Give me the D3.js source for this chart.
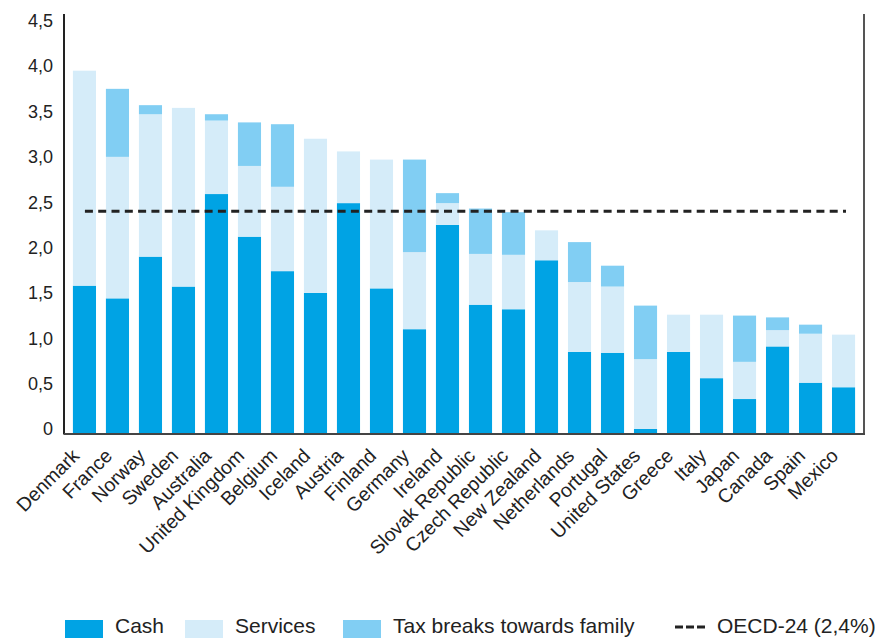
<!DOCTYPE html>
<html>
<head>
<meta charset="utf-8">
<title>Family spending</title>
<style>
    html, body {margin: 0; padding: 0; background: #fff;}
    svg {display: block; font-family: "Liberation Sans", Arial, sans-serif;}
</style>
</head>
<body>
<div id="chart"></div>
<script src="https://cdn.jsdelivr.net/npm/d3@7"></script>
<script>
// Data (% of GDP)
var countries = ["Denmark", "France", "Norway", "Sweden", "Australia", "United Kingdom",
    "Belgium", "Iceland", "Austria", "Finland", "Germany", "Ireland", "Slovak Republic",
    "Czech Republic", "New Zealand", "Netherlands", "Portugal", "United States", "Greece",
    "Italy", "Japan", "Canada", "Spain", "Mexico"];
var cash =     [1.63, 1.49, 1.95, 1.62, 2.64, 2.17, 1.79, 1.55, 2.54, 1.60, 1.15, 2.30,
                1.42, 1.37, 1.91, 0.90, 0.89, 0.05, 0.90, 0.61, 0.38, 0.96, 0.56, 0.51];
var services = [2.37, 1.56, 1.57, 1.97, 0.81, 0.78, 0.93, 1.70, 0.57, 1.42, 0.85, 0.24,
                0.56, 0.60, 0.33, 0.77, 0.73, 0.77, 0.41, 0.70, 0.41, 0.18, 0.54, 0.58];
var taxBreaks = [0, 0.75, 0.10, 0, 0.07, 0.48, 0.69, 0, 0, 0, 1.02, 0.11,
                0.50, 0.47, 0, 0.44, 0.23, 0.59, 0, 0, 0.51, 0.14, 0.10, 0];
var seriesNames = ["Cash", "Services", "Tax breaks towards family"];
var oecdAverage = 2.45;
var oecdLabel = "OECD-24 (2,4%)";
var yTicks = [0, 0.5, 1, 1.5, 2, 2.5, 3, 3.5, 4, 4.5];

var colors = ["#00a3e4", "#d5ecf9", "#81cef3"];
var width = 875, height = 638;
var plot = {left: 64, right: 864, top: 15, bottom: 433.5};

var rows = countries.map(function(c, i) {
    return {country: c, cash: cash[i], services: services[i], tax: taxBreaks[i]};
});
var stack = d3.stack().keys(["cash", "services", "tax"])(rows);

var x = d3.scaleBand().domain(countries)
    .range([plot.left, plot.right]).paddingInner(0.3).paddingOuter(0.27);
var y = d3.scaleLinear().domain([0, 4.5])
    .range([plot.bottom, plot.bottom - 4.5 * 90.7]);

var svg = d3.select("#chart").append("svg")
    .attr("width", width).attr("height", height);

// bars
svg.append("g").selectAll("g")
    .data(stack).enter().append("g")
        .attr("fill", function(d, i) { return colors[i]; })
    .selectAll("rect")
    .data(function(d) { return d; }).enter().append("rect")
        .attr("x", function(d) { return x(d.data.country); })
        .attr("width", x.bandwidth())
        .attr("y", function(d) { return y(d[1]); })
        .attr("height", function(d) { return y(d[0]) - y(d[1]); });

// OECD average line
svg.append("line")
    .attr("x1", x(countries[0]) + 12).attr("x2", x(countries[countries.length - 1]) + 14)
    .attr("y1", y(oecdAverage)).attr("y2", y(oecdAverage))
    .attr("stroke", "#222").attr("stroke-width", 3)
    .attr("stroke-dasharray", "8,5.3");

// axes frame
svg.append("line")
    .attr("x1", plot.left).attr("x2", plot.left)
    .attr("y1", plot.top - 1).attr("y2", plot.bottom + 1)
    .attr("stroke", "#222").attr("stroke-width", 2);
svg.append("line")
    .attr("x1", plot.right).attr("x2", plot.right)
    .attr("y1", plot.top - 1).attr("y2", plot.bottom + 1)
    .attr("stroke", "#555").attr("stroke-width", 2);
svg.append("line")
    .attr("x1", plot.left).attr("x2", plot.right + 1)
    .attr("y1", plot.bottom + 0.5).attr("y2", plot.bottom + 0.5)
    .attr("stroke", "#444").attr("stroke-width", 2);

// y tick labels
var yAxis = d3.axisLeft(y).tickValues(yTicks).tickSize(0).tickPadding(0)
    .tickFormat(function(d) { return d === 0 ? "0" : d3.format(".1f")(d).replace(".", ","); });
var gy = svg.append("g").attr("transform", "translate(" + (plot.left - 11) + ",-4.5)").call(yAxis);
gy.select(".domain").remove();
gy.selectAll("text").attr("font-size", 18).attr("fill", "#222")
    .attr("font-family", "'Liberation Sans', Arial, sans-serif");

// x labels
svg.append("g").selectAll("text")
    .data(countries).enter().append("text")
        .attr("transform", function(d) {
            return "translate(" + (x(d) + x.bandwidth() / 2 - 4) + ",457) rotate(-45)";
        })
        .attr("text-anchor", "end")
        .attr("font-size", 19.5).attr("fill", "#222")
        .text(function(d) { return d; });

// legend (kept just inside the bottom edge)
var legendX = [65, 185, 343];
var legend = svg.append("g");
seriesNames.forEach(function(name, i) {
    legend.append("rect").attr("x", legendX[i]).attr("y", 620)
        .attr("width", 38).attr("height", 18).attr("fill", colors[i]);
    legend.append("text").attr("x", legendX[i] + 50).attr("y", 633)
        .attr("font-size", 21).attr("fill", "#222").text(name);
});
legend.append("line").attr("x1", 675).attr("x2", 705).attr("y1", 627).attr("y2", 627)
    .attr("stroke", "#222").attr("stroke-width", 3).attr("stroke-dasharray", "8,3");
legend.append("text").attr("x", 717).attr("y", 633)
    .attr("font-size", 21).attr("fill", "#222").text(oecdLabel);
</script>
</body>
</html>
